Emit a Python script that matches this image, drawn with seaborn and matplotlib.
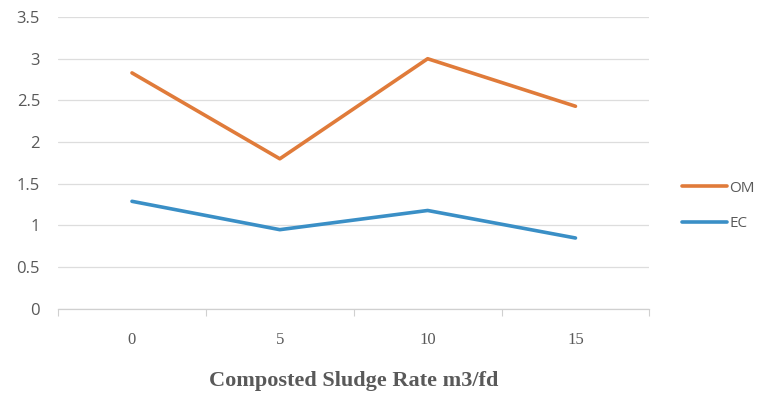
import matplotlib
matplotlib.use("Agg")
import matplotlib.pyplot as plt
import seaborn as sns
import pandas as pd

rates = ["0", "5", "10", "15"]
om_values = [2.83, 1.80, 3.00, 2.43]
ec_values = [1.29, 0.95, 1.18, 0.85]
y_ticks = [0, 0.5, 1, 1.5, 2, 2.5, 3, 3.5]
y_tick_labels = ["0", "0.5", "1", "1.5", "2", "2.5", "3", "3.5"]

sns.set_theme(style="white")
plt.rcParams["font.family"] = ["Open Sans", "DejaVu Sans"]

df = pd.DataFrame({
    "pos": list(range(len(rates))) * 2,
    "value": om_values + ec_values,
    "series": ["OM"] * len(rates) + ["EC"] * len(rates),
})

fig = plt.figure(figsize=(7.64, 3.96), dpi=100)
ax = fig.add_axes([0.076, 0.22, 0.774, 0.737])

palette = {"OM": "#E07B3A", "EC": "#3A8FC6"}
sns.lineplot(data=df, x="pos", y="value", hue="series", palette=palette,
             linewidth=2.6, ax=ax, legend=False)

ax.set_xlim(-0.5, len(rates) - 0.5)
ax.set_ylim(0, 3.5)
ax.set_yticks(y_ticks)
ax.set_yticklabels(y_tick_labels)
ax.set_xticks(range(len(rates)))
ax.set_xticklabels(rates)
ax.set_xticks([i - 0.5 for i in range(len(rates) + 1)], minor=True)
ax.tick_params(axis="x", which="major", length=0, pad=17, labelsize=12,
               labelcolor="#595959", labelfontfamily="Liberation Serif")
ax.tick_params(axis="x", which="minor", length=5, color="#D0D0D0", width=0.8,
               direction="out", bottom=True)
ax.tick_params(axis="y", length=0, pad=13, labelsize=12, labelcolor="#595959")

ax.grid(axis="y", color="#DDDDDD", linewidth=0.9)
ax.set_axisbelow(True)
for s in ["top", "right", "left"]:
    ax.spines[s].set_visible(False)
ax.spines["bottom"].set_color("#D0D0D0")
ax.spines["bottom"].set_linewidth(0.9)

ax.set_xlabel("Composted Sludge Rate m3/fd", fontfamily="Liberation Serif",
              fontweight="bold", fontsize=16, color="#595959", labelpad=16)
ax.set_ylabel("")

handles = [plt.Line2D([], [], color=palette[k], linewidth=2.6) for k in ["OM", "EC"]]
fig.legend(handles, ["OM", "EC"], loc="center left", bbox_to_anchor=(0.893, 0.48),
           frameon=False, borderpad=0, borderaxespad=0,
           handlelength=2.9, handletextpad=0.2, labelspacing=1.35,
           prop={"family": "Open Sans", "size": 11}, labelcolor="#595959")

fig.savefig("out.png", dpi=100, facecolor="white")
